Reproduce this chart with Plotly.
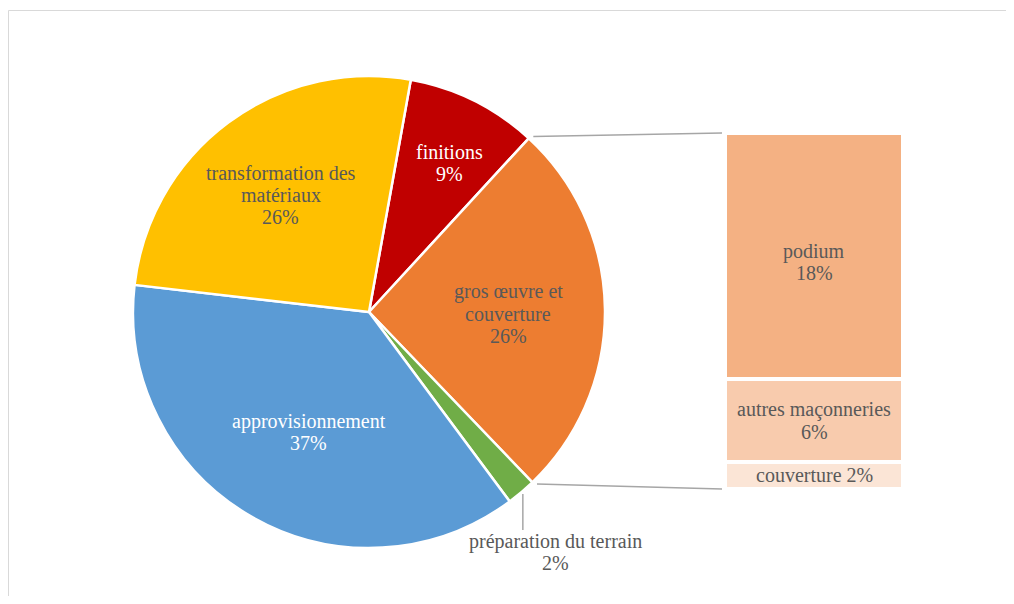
import math
import plotly.graph_objects as go

# ---------------- data ----------------
pie_labels = ["finitions", "gros œuvre et couverture", "préparation du terrain",
              "approvisionnement", "transformation des matériaux"]
pie_values = [9, 26, 2, 37, 26]
pie_text_lines = [["finitions"], ["gros œuvre et", "couverture"], ["préparation du terrain"],
                  ["approvisionnement"], ["transformation des", "matériaux"]]

bar_labels = ["couverture", "autres maçonneries", "podium"]  # bottom -> top
bar_values = [2, 6, 18]
bar_text_lines = [["couverture 2%"], ["autres maçonneries", "6%"], ["podium", "18%"]]

# ---------------- style ----------------
pie_colors = ["#C00000", "#ED7D31", "#70AD47", "#5B9BD5", "#FFC000"]
pie_text_colors = ["#FFFFFF", "#595959", "#595959", "#FFFFFF", "#595959"]
pie_label_r = [0.72, 0.59, None, 0.57, 0.62]
pie_label_nudge = [(5, 3), (0, 3), (-2, 0), (7, 4), (-1, 0)]   # pixel nudges
bar_label_nudge = [0, 0, 6]
bar_colors = ["#FBE5D6", "#F8CBAD", "#F4B183"]
FONT = "Liberation Serif, serif"
FSIZE = 20
LINE_H = 22
GREY = "#595959"

OFF = 8                      # page body margin
W, H = 1014 - 2 * OFF, 604 - 2 * OFF
CX, CY, R = 369, 312, 236    # reference pixel coordinates
ROT = 10.2
BAR_X0, BAR_X1, BAR_Y0, BAR_Y1 = 725, 903, 133, 489  # pixel box of bar stack


def px(x):
    return (x - OFF) / W


def py(y):
    return 1 - (y - OFF) / H


total = sum(pie_values)


def pie_point(frac, rr=1.0):
    a = math.radians(ROT + 360 * frac)
    return CX + R * rr * math.sin(a), CY - R * rr * math.cos(a)


fig = go.Figure()

fig.add_trace(go.Pie(
    labels=pie_labels, values=pie_values, sort=False, direction="clockwise",
    rotation=ROT, textinfo="none", hoverinfo="label+percent",
    marker=dict(colors=pie_colors, line=dict(color="white", width=2.5)),
    domain=dict(x=[px(CX - R), px(CX + R)], y=[py(CY + R), py(CY - R)]),
    showlegend=False,
))

for lab, v, col in zip(bar_labels, bar_values, bar_colors):
    fig.add_trace(go.Bar(
        x=[0], y=[v], name=lab, width=1, showlegend=False,
        marker=dict(color=col, line=dict(color="white", width=4)),
    ))

annotations = []


def add_lines(lines, xc, yc, color, xref="paper", yref="paper", dy=0):
    n = len(lines)
    for i, t in enumerate(lines):
        off = (i - (n - 1) / 2) * LINE_H + dy
        annotations.append(dict(
            text=t, x=xc, y=yc, xref=xref, yref=yref, showarrow=False,
            xanchor="center", yanchor="middle", yshift=-off,
            font=dict(family=FONT, size=FSIZE, color=color),
        ))


cum = 0
shapes = []
for i, v in enumerate(pie_values):
    pct = f"{round(100 * v / total)}%"
    mid = (cum + v / 2) / total
    nx, ny = pie_label_nudge[i]
    if pie_label_r[i] is not None:
        x, y = pie_point(mid, pie_label_r[i])
        add_lines(pie_text_lines[i] + [pct], px(x + nx), py(y + ny), pie_text_colors[i])
    else:
        x0, y0 = pie_point(mid, 1.01)
        y1 = y0 + 36
        shapes.append(dict(type="line", xref="paper", yref="paper",
                           x0=px(x0), y0=py(y0), x1=px(x0), y1=py(y1),
                           line=dict(color="#A6A6A6", width=1.5)))
        add_lines(pie_text_lines[i] + [pct], px(x0 + 35 + nx), py(y1 + 22 + ny), pie_text_colors[i])
    cum += v

# connectors for the exploded slice (index 1)
start = pie_values[0] / total
end = (pie_values[0] + pie_values[1]) / total
sx, sy = pie_point(start, 1.01)
ex, ey = pie_point(end, 1.01)
shapes.append(dict(type="line", xref="paper", yref="paper", x0=px(sx + 3), y0=py(sy), x1=px(BAR_X0 - 3), y1=py(BAR_Y0),
                   line=dict(color="#A6A6A6", width=1.5)))
shapes.append(dict(type="line", xref="paper", yref="paper", x0=px(ex + 3), y0=py(ey), x1=px(BAR_X0 - 3), y1=py(BAR_Y1),
                   line=dict(color="#A6A6A6", width=1.5)))

# frame
shapes.append(dict(type="line", xref="paper", yref="paper", x0=px(8.5), y0=py(10.5), x1=1, y1=py(10.5),
                   line=dict(color="#D9D9D9", width=1)))
shapes.append(dict(type="line", xref="paper", yref="paper", x0=px(8.5), y0=py(10.5), x1=px(8.5), y1=0,
                   line=dict(color="#D9D9D9", width=1)))

# bar labels
c = 0
for lines, v, nd in zip(bar_text_lines, bar_values, bar_label_nudge):
    add_lines(lines, 0, c + v / 2, GREY, xref="x", yref="y", dy=nd)
    c += v

fig.update_layout(
    width=W, height=H, margin=dict(l=0, r=0, t=0, b=0),
    paper_bgcolor="white", plot_bgcolor="white",
    barmode="stack", bargap=0,
    xaxis=dict(domain=[px(BAR_X0), px(BAR_X1)], range=[-0.5, 0.5], visible=False, fixedrange=True),
    yaxis=dict(domain=[py(BAR_Y1), py(BAR_Y0)], range=[0, sum(bar_values)], visible=False, fixedrange=True),
    annotations=annotations, shapes=shapes,
    font=dict(family=FONT, color=GREY),
)

fig.write_html("out.html")
